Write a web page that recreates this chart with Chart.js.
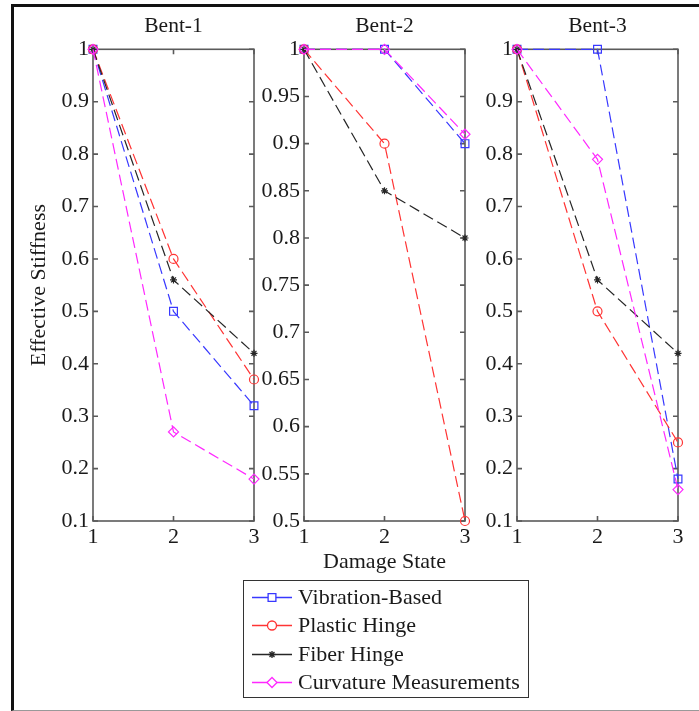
<!DOCTYPE html>
<html>
<head>
<meta charset="utf-8">
<script src="https://cdn.jsdelivr.net/npm/chart.js@4.4.1/dist/chart.umd.min.js"></script>
<style>
  body { margin: 0; background: #fff; width: 699px; height: 711px; overflow: hidden; position: relative; }
  .frame { position: absolute; left: 11px; top: 4px; width: 720px; height: 703px;
           border-left: 3px solid #111; border-top: 3px solid #111; border-bottom: 1px solid #999; }
  canvas.panel { position: absolute; top: 0; }
  #legend { position: absolute; left: 243px; top: 580px; width: 284px; height: 116px;
            border: 1.5px solid #333; background: #fff; font-family: "Liberation Serif", serif;
            font-size: 22px; color: #1a1a1a; }
  #legend .row { position: absolute; left: 0; height: 28px; display: flex; align-items: center; }
  #legend canvas { margin-left: 8px; margin-right: 6px; }
</style>
</head>
<body>
<div class="frame"></div>
<canvas id="bent1" class="panel"></canvas>
<canvas id="bent2" class="panel"></canvas>
<canvas id="bent3" class="panel"></canvas>
<div id="legend"></div>

<script>
// damage states along x, one set of values per bent
const damageStates = [1, 2, 3];
const bentTitles = ['Bent-1', 'Bent-2', 'Bent-3'];
const seriesNames = ['Vibration-Based', 'Plastic Hinge', 'Fiber Hinge', 'Curvature Measurements'];

const vibrationBased = [[1, 0.5, 0.32], [1, 1, 0.9], [1, 1, 0.18]];
const plasticHinge = [[1, 0.6, 0.37], [1, 0.9, 0.5], [1, 0.5, 0.25]];
const fiberHinge = [[1, 0.56, 0.42], [1, 0.85, 0.8], [1, 0.56, 0.42]];
const curvatureMeasurements = [[1, 0.27, 0.18], [1, 1, 0.91], [1, 0.79, 0.16]];

const yTicksWide = [0.1, 0.2, 0.3, 0.4, 0.5, 0.6, 0.7, 0.8, 0.9, 1];
const yTicksNarrow = [0.5, 0.55, 0.6, 0.65, 0.7, 0.75, 0.8, 0.85, 0.9, 0.95, 1];
const bentYTicks = [yTicksWide, yTicksNarrow, yTicksWide];

const seriesValues = [vibrationBased, plasticHinge, fiberHinge, curvatureMeasurements];
const seriesStyle = [
  { color: '#3838ff', point: 'rect', radius: 5.5 },
  { color: '#ff3434', point: 'circle', radius: 4.5 },
  { color: '#262626', point: 'star', radius: 3.5 },
  { color: '#ff28ff', point: 'rectRot', radius: 5 }
];

const FONT = 'Liberation Serif';
const TEXT = '#1a1a1a';
const AXIS = '#5a5a5a';

// panel placement: where each plot box sits on the page
const plotLefts = [93, 304, 517];
const plotWidth = 161;
const yAxisWidths = [68, 60, 60];
const canvasHeight = 575;

// box around the plot area with inward ticks on all four sides
const boxPlugin = {
  id: 'box',
  beforeDatasetsDraw(chart) {
    const { ctx, chartArea: a, scales } = chart;
    const len = 5;
    ctx.save();
    ctx.strokeStyle = AXIS;
    ctx.lineWidth = 1.6;
    ctx.beginPath();
    scales.y.ticks.forEach(t => {
      const y = scales.y.getPixelForValue(t.value);
      ctx.moveTo(a.left, y); ctx.lineTo(a.left + len, y);
      ctx.moveTo(a.right, y); ctx.lineTo(a.right - len, y);
    });
    scales.x.ticks.forEach(t => {
      const x = scales.x.getPixelForValue(t.value);
      ctx.moveTo(x, a.bottom); ctx.lineTo(x, a.bottom - len);
      ctx.moveTo(x, a.top); ctx.lineTo(x, a.top + len);
    });
    ctx.stroke();
    ctx.strokeRect(a.left, a.top, a.right - a.left, a.bottom - a.top);
    ctx.restore();
  }
};

function makePanel(i) {
  const canvas = document.getElementById('bent' + (i + 1));
  const w = yAxisWidths[i] + plotWidth + 10;
  canvas.width = w;
  canvas.height = canvasHeight;
  canvas.style.width = w + 'px';
  canvas.style.height = canvasHeight + 'px';
  canvas.style.left = (plotLefts[i] - yAxisWidths[i]) + 'px';

  const ticks = bentYTicks[i];
  const datasets = seriesValues.map((vals, s) => ({
    label: seriesNames[s],
    data: damageStates.map((x, k) => ({ x: x, y: vals[i][k] })),
    borderColor: seriesStyle[s].color,
    backgroundColor: s === 2 ? seriesStyle[s].color : 'rgba(0,0,0,0)',
    borderWidth: 1.2,
    borderDash: [11, 5],
    pointStyle: seriesStyle[s].point,
    pointRadius: seriesStyle[s].radius,
    pointBorderWidth: 1.2,
    pointBorderColor: seriesStyle[s].color,
    tension: 0,
    clip: false,
    order: 4 - s
  }));

  new Chart(canvas.getContext('2d'), {
    type: 'line',
    data: { datasets },
    plugins: [boxPlugin],
    options: {
      responsive: false,
      animation: false,
      devicePixelRatio: 1,
      layout: { padding: { top: 0, right: 10, bottom: 0, left: 0 } },
      plugins: {
        legend: { display: false },
        tooltip: { enabled: false },
        title: {
          display: true,
          fullSize: false,
          text: bentTitles[i],
          color: TEXT,
          font: { family: FONT, size: 21.5, weight: 'normal' },
          padding: { top: 13, bottom: 10.5 }
        }
      },
      scales: {
        x: {
          type: 'linear',
          min: damageStates[0],
          max: damageStates[damageStates.length - 1],
          grid: { display: false, drawTicks: false },
          border: { display: false },
          afterBuildTicks: sc => { sc.ticks = damageStates.map(v => ({ value: v })); },
          afterFit: sc => { sc.height = 54; },
          ticks: {
            color: TEXT, padding: 3,
            font: { family: FONT, size: 22 },
            callback: v => String(v)
          },
          title: {
            display: i === 1,
            text: 'Damage State',
            color: TEXT,
            font: { family: FONT, size: 22 },
            padding: { top: 0, bottom: 0 }
          }
        },
        y: {
          type: 'linear',
          min: ticks[0],
          max: ticks[ticks.length - 1],
          grid: { display: false, drawTicks: false },
          border: { display: false },
          afterBuildTicks: sc => { sc.ticks = ticks.map(v => ({ value: v })); },
          afterFit: sc => { sc.width = yAxisWidths[i]; },
          ticks: {
            color: TEXT, padding: 4,
            font: { family: FONT, size: 22 },
            callback: v => String(Number(v.toFixed(2)))
          },
          title: {
            display: i === 0,
            text: 'Effective Stiffness',
            color: TEXT,
            font: { family: FONT, size: 22 },
            padding: { top: 1, bottom: 0 }
          }
        }
      }
    }
  });
}

bentTitles.forEach((t, i) => makePanel(i));

// legend: short sample line with the series marker, then the name
const legend = document.getElementById('legend');
seriesNames.forEach((name, s) => {
  const row = document.createElement('div');
  row.className = 'row';
  row.style.top = (2 + s * 28.3) + 'px';
  const c = document.createElement('canvas');
  c.width = 40; c.height = 28;
  const g = c.getContext('2d');
  const st = seriesStyle[s];
  g.strokeStyle = st.color;
  g.fillStyle = s === 2 ? st.color : '#fff';
  g.lineWidth = 1.3;
  g.beginPath(); g.moveTo(0, 14.5); g.lineTo(40, 14.5); g.stroke();
  if (Chart.helpers && Chart.helpers.drawPoint) {
    Chart.helpers.drawPoint(g, { pointStyle: st.point, radius: st.radius, borderWidth: 1.3, rotation: 0 }, 20, 14.5);
  }
  const label = document.createElement('span');
  label.textContent = name;
  row.appendChild(c);
  row.appendChild(label);
  legend.appendChild(row);
});
</script>
</body>
</html>
